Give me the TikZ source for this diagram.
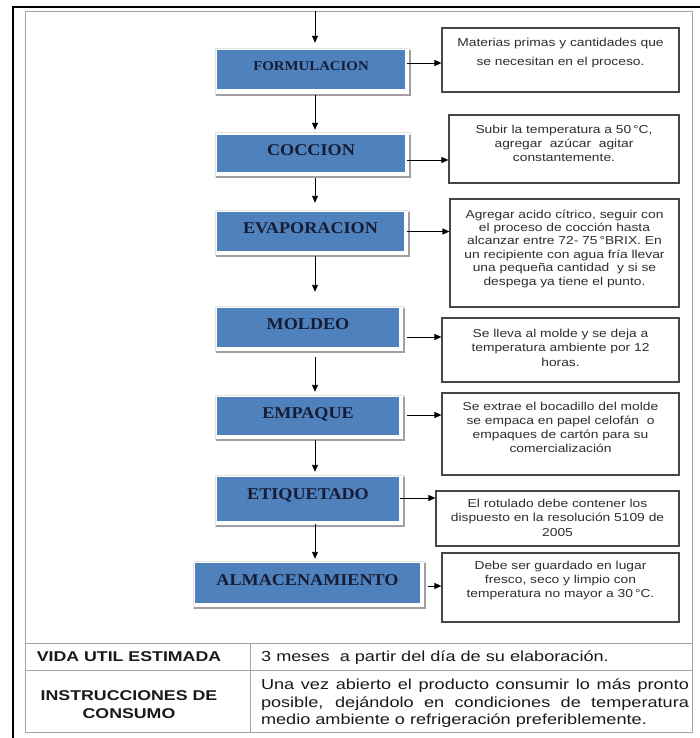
\documentclass[tikz,border=0pt]{standalone}
\usepackage{fontspec}
\setmainfont{Liberation Sans}
\newfontfamily\boxfont{Liberation Sans}[FakeStretch=1.2]
\newfontfamily\tabfont{Liberation Sans}[FakeStretch=1.25]
\newfontfamily\stepfont{Liberation Serif}[FakeStretch=1.1]
\usetikzlibrary{arrows.meta,calc}
\definecolor{stepblue}{HTML}{4F81BD}
\definecolor{steptext}{RGB}{22,28,52}
\definecolor{boxline}{RGB}{70,70,70}
\definecolor{frameline}{RGB}{165,165,165}
\definecolor{shadowdark}{RGB}{160,160,160}
\definecolor{shadowlight}{RGB}{225,225,225}
\tikzset{
  stepbox/.style={fill=stepblue, draw=none, inner sep=0pt, text=steptext,
    font=\stepfont\bfseries\fontsize{16.5}{18}\selectfont, text height=11pt, text depth=7pt},
  infobox/.style={draw=boxline, line width=1.2pt, fill=white, inner sep=0pt},
  infotext/.style={font=\boxfont\fontsize{11.5}{13.8}\selectfont, align=center, text=black!82, inner sep=0pt},
  arr/.style={draw=black, line width=0.9pt, -{Triangle[length=7pt,width=6pt]}},
  tabtext/.style={font=\tabfont\fontsize{14.5}{18}\selectfont, inner sep=0pt, text=black!90},
  tabhead/.style={tabtext, font=\tabfont\bfseries\fontsize{14.2}{18}\selectfont, align=center},
  tabline/.style={draw=frameline, line width=1pt},
}
\begin{document}
\begin{tikzpicture}[x=1pt,y=-1pt]
\useasboundingbox (0,0) rectangle (699,738);
% outer black frame
\draw[line width=2.5pt, line cap=rect] (13,738) -- (13,7) -- (699,7);
% inner gray frame with table
\node[draw=frameline, line width=1.3pt, minimum width=667pt, minimum height=721pt, anchor=north west, inner sep=0pt] (frame) at (25,11) {};
\draw[tabline] (frame.west |- 0,643) -- (frame.east |- 0,643);
\draw[tabline] (frame.west |- 0,670.5) -- (frame.east |- 0,670.5);
\draw[tabline] (250,643) -- (250,732);
\coordinate (axis) at (315,0);

% step boxes
\node[stepbox, minimum width=188pt, minimum height=39pt, font=\stepfont\bfseries\fontsize{13.5}{16}\selectfont, text height=9pt, text depth=7pt] (F) at (311,70) {FORMULACION};
\node[stepbox, minimum width=188pt, minimum height=37pt] (C) at (311,153.5) {COCCION};
\node[stepbox, minimum width=187pt, minimum height=39pt] (E) at (310.5,231.5) {EVAPORACION};
\node[stepbox, minimum width=182pt, minimum height=39pt] (M) at (308,327.5) {MOLDEO};
\node[stepbox, minimum width=182pt, minimum height=38pt] (P) at (308,416) {EMPAQUE};
\node[stepbox, minimum width=182pt, minimum height=44pt, text depth=10pt] (T) at (308,499) {ETIQUETADO};
\node[stepbox, minimum width=225pt, minimum height=40pt] (A) at (307.5,583) {ALMACENAMIENTO};
\foreach \n in {F,C,E,M,P,T,A}{
  \draw[shadowlight, line width=0.6pt] ([shift={(-2pt,2pt)}]\n.north west) rectangle ([shift={(5pt,-5pt)}]\n.south east);
  \draw[shadowdark, line width=1.8pt] ([shift={(-1pt,-5pt)}]\n.south west) -- ([shift={(5pt,-5pt)}]\n.south east) -- ([shift={(5pt,0pt)}]\n.north east);
}

% info boxes
\node[infobox, minimum width=237pt, minimum height=64pt] (t1) at (560.5,60) {};
\node[infobox, minimum width=230pt, minimum height=68pt] (t2) at (564,149) {};
\node[infobox, minimum width=229pt, minimum height=108pt] (t3) at (564.5,253) {};
\node[infobox, minimum width=237pt, minimum height=64pt] (t4) at (560.5,350) {};
\node[infobox, minimum width=237pt, minimum height=82pt] (t5) at (560.5,434) {};
\node[infobox, minimum width=243pt, minimum height=55pt] (t6) at (557.5,518.5) {};
\node[infobox, minimum width=237pt, minimum height=69pt] (t7) at (560.5,587.5) {};

\node[infotext, font=\boxfont\fontsize{11.5}{19.5}\selectfont] (x1) at (560.5,53) {Materias primas y cantidades que\\se necesitan en el proceso.};
\node[infotext] (x2) at (564,143.5) {Subir la temperatura a 50\,°C,\\agregar\ \ azúcar\ \ agitar\\constantemente.};
\node[infotext, font=\boxfont\fontsize{11.5}{13.4}\selectfont] (x3) at (564.5,248.5) {Agregar acido cítrico, seguir con\\el proceso de cocción hasta\\alcanzar entre 72- 75\,°BRIX. En\\un recipiente con agua fría llevar\\una pequeña cantidad\ \ y si se\\despega ya tiene el punto.};
\node[infotext, font=\boxfont\fontsize{11.5}{14.5}\selectfont] (x4) at (560.5,347.5) {Se lleva al molde y se deja a\\temperatura ambiente por 12\\horas.};
\node[infotext] (x5) at (560.5,427.5) {Se extrae el bocadillo del molde\\se empaca en papel celofán\ \ o\\empaques de cartón para su\\comercialización};
\node[infotext, font=\boxfont\fontsize{11.5}{14.5}\selectfont] (x6) at (557.5,517.5) {El rotulado debe contener los\\dispuesto en la resolución 5109 de\\2005};
\node[infotext, font=\boxfont\fontsize{11.5}{14}\selectfont] (x7) at (560.5,581) {Debe ser guardado en lugar\\fresco, seco y limpio con\\temperatura no mayor a 30\,°C.};

% vertical arrows
\draw[arr, shorten >=7.5pt] (frame.north -| axis) -- (F.north -| axis);
\draw[arr, shorten <=5.5pt, shorten >=5pt] (F.south -| axis) -- (C.north -| axis);
\draw[arr, shorten <=6pt, shorten >=9pt] (C.south -| axis) -- (E.north -| axis);
\draw[arr, shorten <=5pt, shorten >=16pt] (E.south -| axis) -- (M.north -| axis);
\draw[arr, shorten <=10pt, shorten >=5pt] (M.south -| axis) -- (P.north -| axis);
\draw[arr, shorten <=5pt, shorten >=5pt] (P.south -| axis) -- (T.north -| axis);
\draw[arr, shorten <=3pt, shorten >=4pt] (T.south -| axis) -- (A.north -| axis);

% horizontal arrows
\draw[arr] ([xshift=2pt,yshift=7pt]F.east) coordinate (h1) -- (h1 -| t1.west);
\draw[arr] ([xshift=2pt,yshift=-6.5pt]C.east) coordinate (h2) -- (h2 -| t2.west);
\draw[arr] ([xshift=3pt]E.east) coordinate (h3) -- (h3 -| t3.west);
\draw[arr] ([xshift=8pt,yshift=-9.5pt]M.east) coordinate (h4) -- (h4 -| t4.west);
\draw[arr] ([xshift=8pt,yshift=1pt]P.east) coordinate (h5) -- (h5 -| t5.west);
\draw[arr] ([xshift=1pt,yshift=1pt]T.east) coordinate (h6) -- (h6 -| t6.west);
\draw[arr] ([xshift=8pt,yshift=-3pt]A.east) coordinate (h7) -- (h7 -| t7.west);

% table text
\node[tabhead] (r1a) at (129,657) {VIDA UTIL ESTIMADA};
\node[tabtext, anchor=west] (r1b) at (261,657.5) {3 meses\ \ a partir del día de su elaboración.};
\node[tabhead] (r2a) at (129,705) {INSTRUCCIONES DE\\CONSUMO};
\node[tabtext, font=\tabfont\fontsize{14.5}{17.5}\selectfont, text width=428pt, align=justify] (r2b) at (475,703.5) {Una vez abierto el producto consumir lo más pronto\linebreak posible, dejándolo en condiciones de temperatura\linebreak medio ambiente o refrigeración preferiblemente.};
\end{tikzpicture}
\end{document}
